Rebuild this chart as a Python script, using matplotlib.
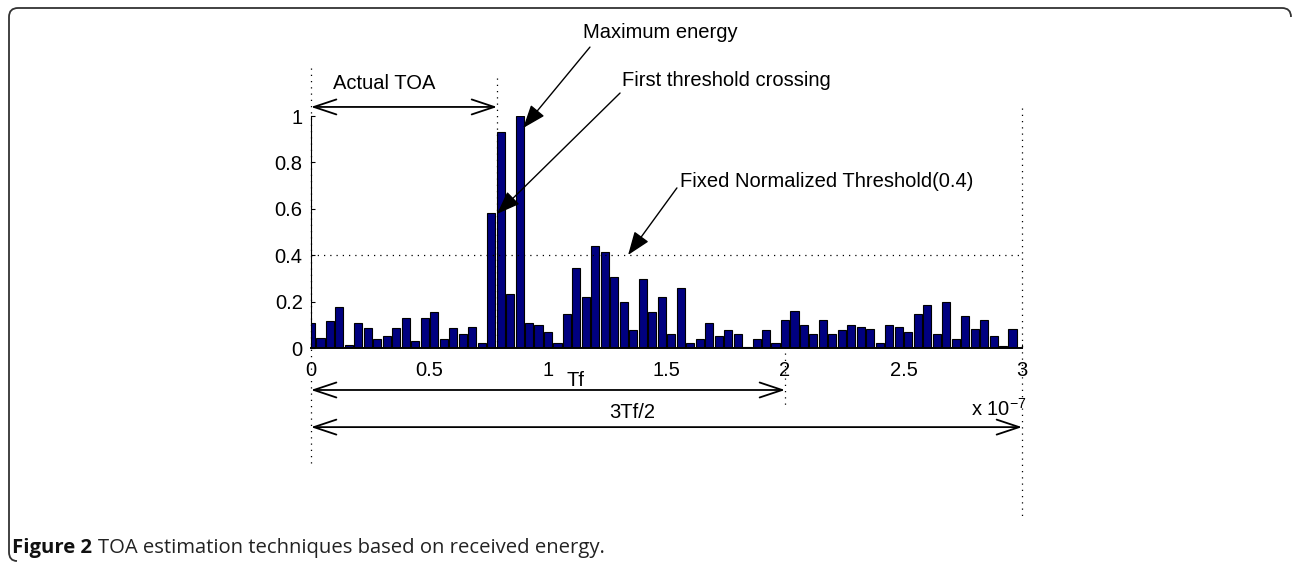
import numpy as np
import matplotlib.pyplot as plt
from matplotlib.path import Path
from matplotlib.patches import PathPatch

plt.rcParams['font.family'] = ['Liberation Sans', 'DejaVu Sans']
plt.rcParams['mathtext.default'] = 'regular'

# energia normalizada por bin (75 bins de 4 ns)
bin_x = np.arange(75) * 0.04
energy = [0.108, 0.044, 0.116, 0.176, 0.014, 0.108, 0.085, 0.039, 0.053, 0.085,
          0.131, 0.030, 0.131, 0.155, 0.039, 0.085, 0.062, 0.092, 0.023, 0.584,
          0.931, 0.231, 1.000, 0.108, 0.100, 0.069, 0.023, 0.145, 0.344, 0.221,
          0.438, 0.413, 0.306, 0.198, 0.076, 0.298, 0.154, 0.221, 0.062, 0.260,
          0.023, 0.039, 0.106, 0.053, 0.076, 0.062, 0.003, 0.039, 0.076, 0.023,
          0.122, 0.161, 0.099, 0.062, 0.122, 0.062, 0.076, 0.099, 0.092, 0.083,
          0.023, 0.099, 0.092, 0.069, 0.145, 0.184, 0.062, 0.199, 0.039, 0.138,
          0.083, 0.122, 0.053, 0.007, 0.083]
threshold = 0.4
toa = 0.785
tf = 2.0
x_ticks = [0, 0.5, 1, 1.5, 2, 2.5, 3]
x_labels = ['0', '0.5', '1', '1.5', '2', '2.5', '3']
y_ticks = [0, 0.2, 0.4, 0.6, 0.8, 1]
y_labels = ['0', '0.2', '0.4', '0.6', '0.8', '1']

W, H = 1293, 564
fig = plt.figure(figsize=(W / 100, H / 100), dpi=100)
ax = fig.add_axes([311 / W, 216 / H, 711 / W, 232 / H])

ax.bar(bin_x, energy, width=0.034, color='#000080', edgecolor='black', linewidth=0.8, zorder=2)
ax.set_xlim(0, 3)
ax.set_ylim(0, 1)
ax.set_xticks(x_ticks)
ax.set_xticklabels(x_labels)
ax.set_yticks(y_ticks)
ax.set_yticklabels(y_labels)
ax.tick_params(direction='in', labelsize=14.5, length=3, pad=9)
ax.tick_params(axis='y', pad=6)
for s in ['top', 'right']:
    ax.spines[s].set_visible(False)
ax.spines['bottom'].set_linewidth(1.4)
ax.spines['left'].set_linewidth(0.8)

dot = dict(color='black', linestyle=(0, (1, 4)), linewidth=0.9, clip_on=False)
ax.plot([0, 3], [threshold, threshold], **dot)
ax.plot([0, 0], [1.207, -0.513], **dot)
ax.plot([toa, toa], [1.164, 0], **dot)
ax.plot([3, 3], [1.034, -0.733], **dot)
ax.plot([tf, tf], [-0.02, -0.254], **dot)

def dbl_arrow(x0, x1, y):
    ax.annotate('', xy=(x1, y), xytext=(x0, y), annotation_clip=False,
                arrowprops=dict(arrowstyle='<->,head_length=0.9,head_width=0.3',
                                color='black', lw=1.3,
                                mutation_scale=18, shrinkA=0, shrinkB=0))

dbl_arrow(0, toa, 1.039)
dbl_arrow(0, tf, -0.181)
dbl_arrow(0, 3, -0.341)

fs = 14.5
ax.text(0.093, 1.138, 'Actual TOA', fontsize=fs, va='center', ha='left')
ax.text(1.114, -0.138, 'Tf', fontsize=fs, va='center', ha='center')
ax.text(1.354, -0.28, '3Tf/2', fontsize=fs, va='center', ha='center')
ax.text(3.02, -0.262, r'x 10$^{-7}$', fontsize=fs, va='center', ha='right')

def note(txt, tx, ty, sx, sy, hx, hy):
    ax.text(tx, ty, txt, fontsize=fs, va='center', ha='left')
    ax.annotate('', xy=(hx, hy), xytext=(sx, sy), annotation_clip=False,
                arrowprops=dict(arrowstyle='-|>,head_length=0.8,head_width=0.3',
                                color='black', lw=1.0, mutation_scale=18,
                                shrinkA=0, shrinkB=0))

note('Maximum energy', 1.148, 1.358, 1.177, 1.297, 0.895, 0.948)
note('First threshold crossing', 1.312, 1.155, 1.304, 1.099, 0.785, 0.578)
note('Fixed Normalized Threshold(0.4)', 1.557, 0.716, 1.544, 0.690, 1.338, 0.401)

# marco de la figura
def fx(p):
    return (p[0] / W, 1 - p[1] / H)

pts = [(1291, 17), (1291, 8), (1282, 8), (18, 8), (9, 8), (9, 17),
       (9, 552), (9, 561), (17, 561)]
codes = [Path.MOVETO, Path.CURVE3, Path.CURVE3, Path.LINETO, Path.CURVE3, Path.CURVE3,
         Path.LINETO, Path.CURVE3, Path.CURVE3]
frame = PathPatch(Path([fx(p) for p in pts], codes), transform=fig.transFigure,
                  fill=False, edgecolor='#333333', linewidth=1.3)
fig.patches.append(frame)

fig.text(12 / W, 1 - 548 / H, 'Figure 2', fontsize=14.6, fontweight='bold',
         family='Open Sans', color='#111111', va='center', ha='left')
fig.text(98 / W, 1 - 548 / H, 'TOA estimation techniques based on received energy.',
         fontsize=14.6, family='Open Sans', color='#222222', va='center', ha='left')

plt.savefig('out.png', dpi=100)
